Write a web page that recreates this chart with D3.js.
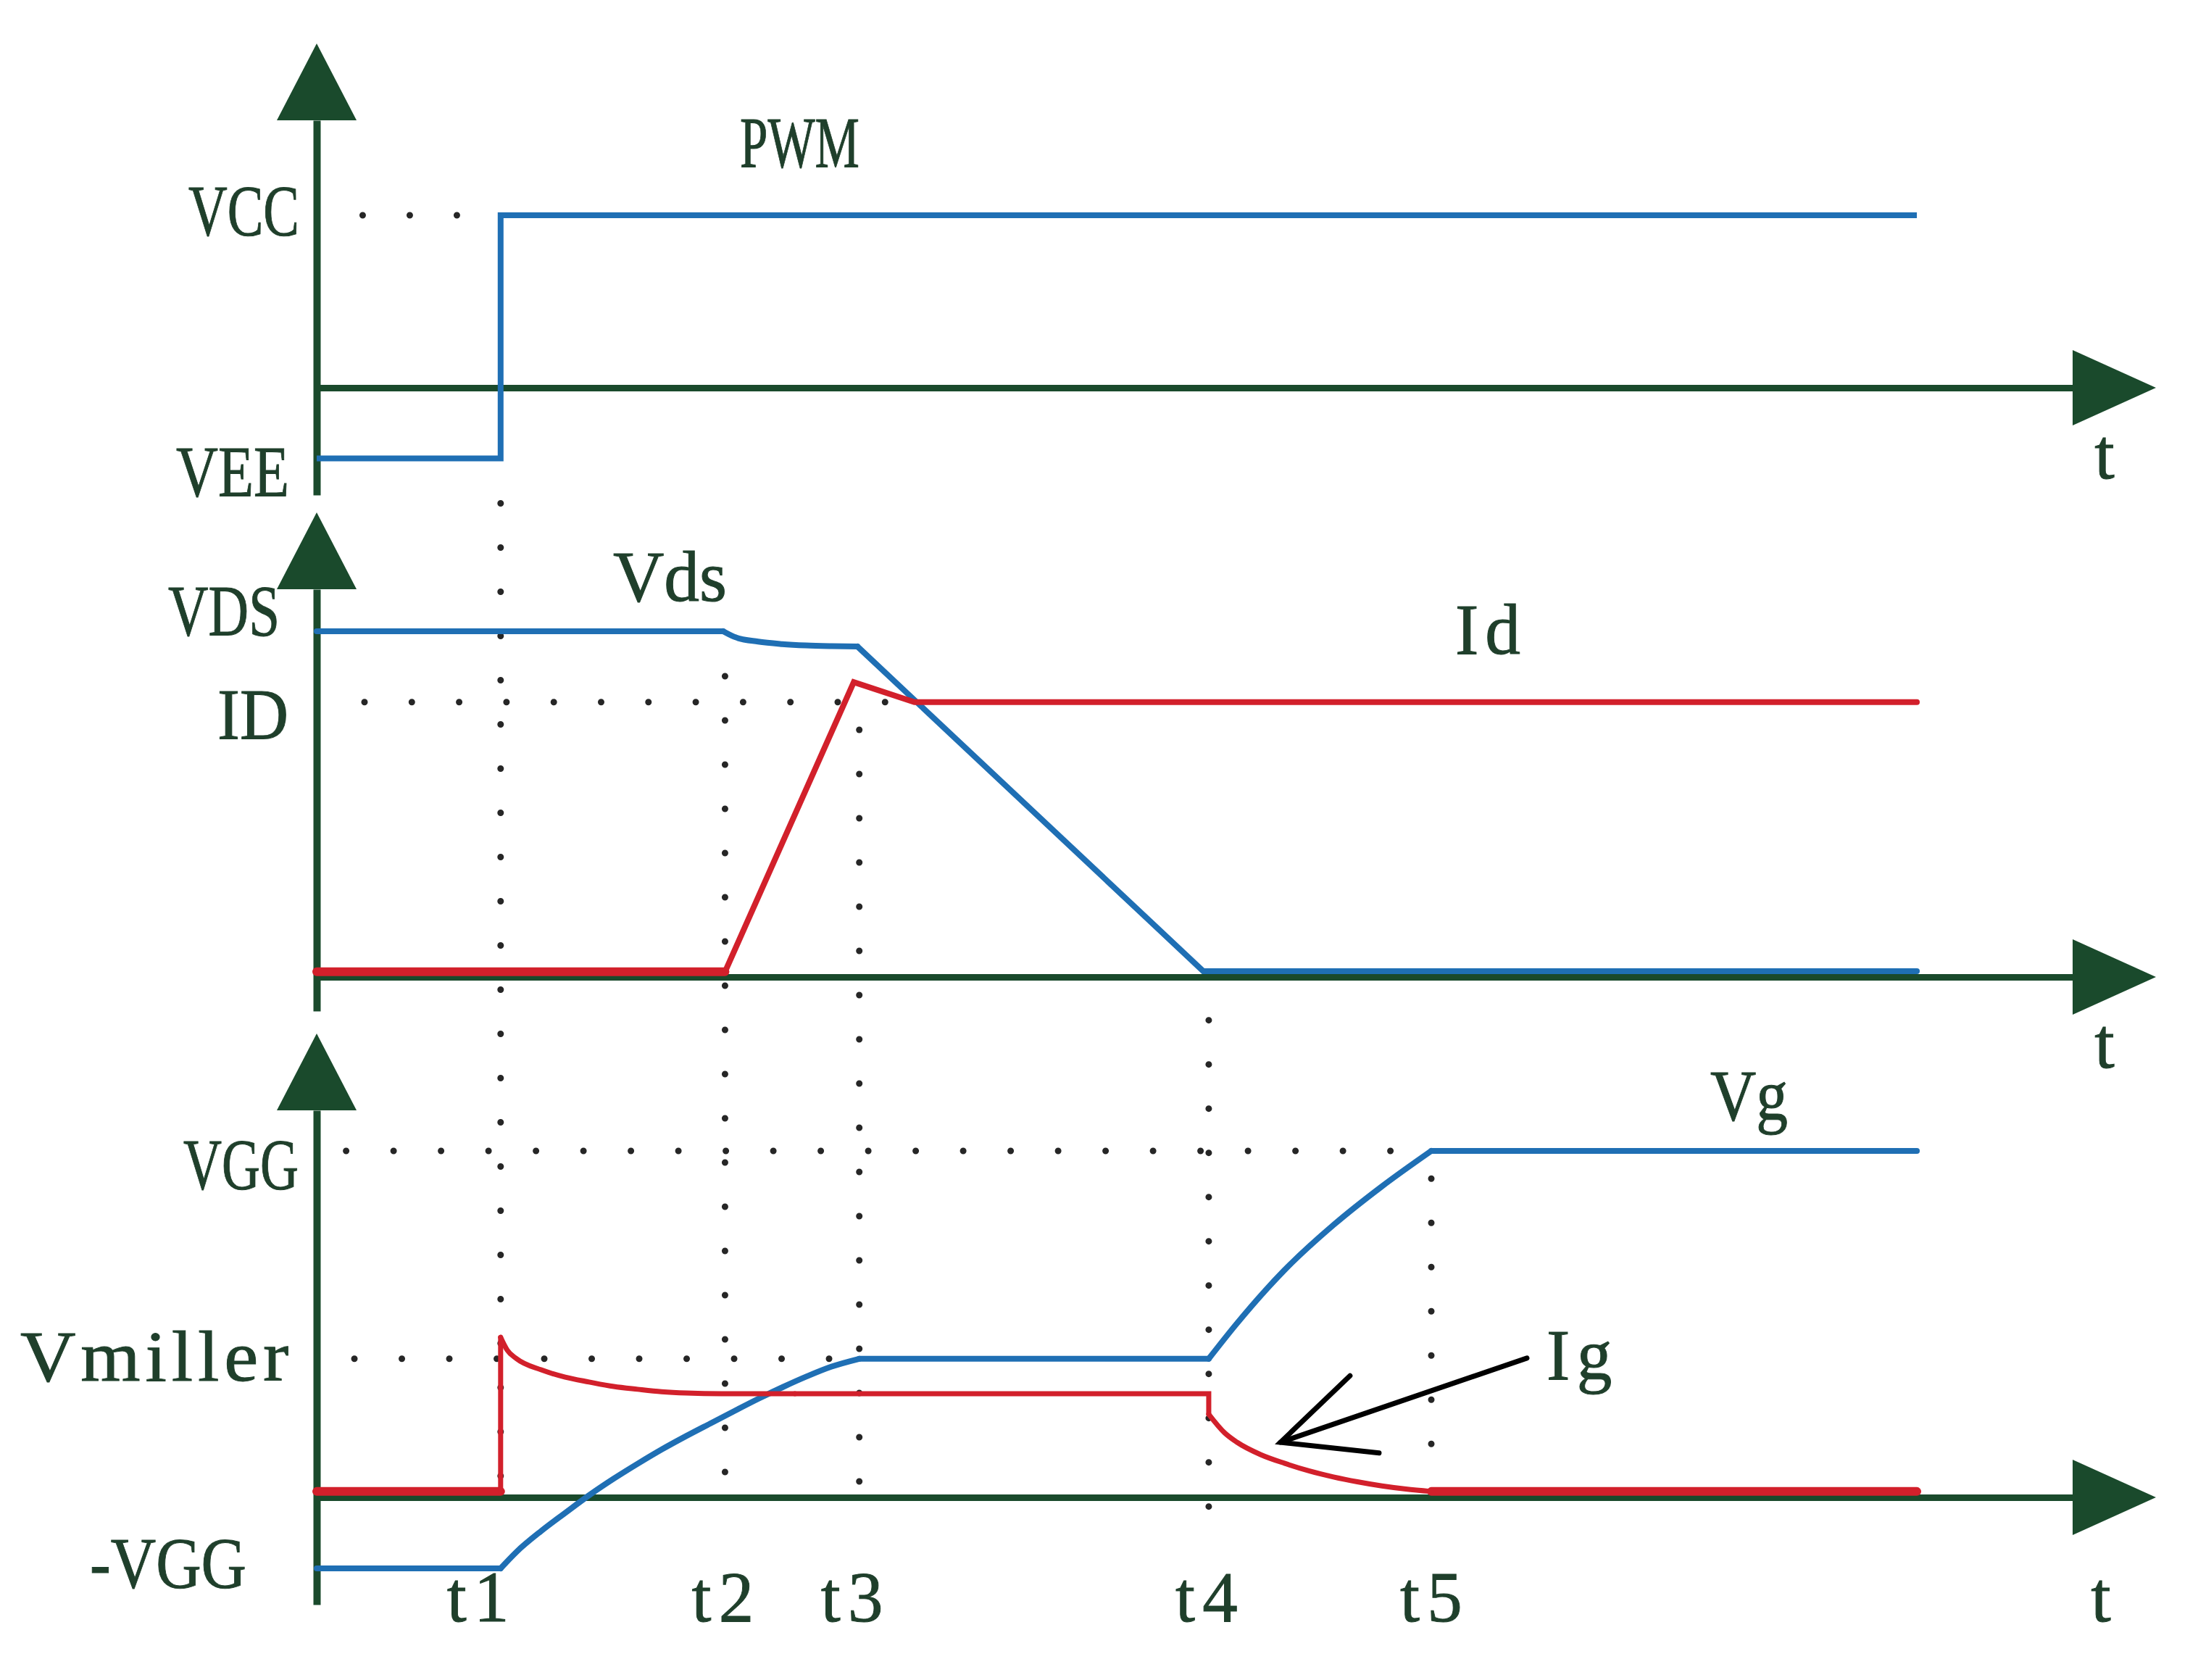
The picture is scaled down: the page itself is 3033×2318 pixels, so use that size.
<!DOCTYPE html>
<html><head><meta charset="utf-8">
<script src="https://cdn.jsdelivr.net/npm/d3@7"></script>
<style>html,body{margin:0;padding:0;background:#fff;} svg{display:block;}</style>
</head><body>
<svg id="chart" width="3033" height="2318"></svg>
<script>
// ---------------- DATA ----------------
const tickNames  = ["t1", "t2", "t3", "t4", "t5"];
const tickValues = [1.0, 2.22, 2.95, 4.85, 6.06];

// Panel 1 : PWM
const p1LevelNames = ["VCC", "VEE"];
const p1LevelValues = [1, -0.41];
const pwmTime  = [0, 1.0, 1.0, 8.70];
const pwmValue = [-0.41, -0.41, 1, 1];

// Panel 2 : Vds / Id
const p2LevelNames = ["VDS", "ID"];
const p2LevelValues = [1, 0.795];
const vdsTime  = [0, 2.21, 2.27, 2.40, 2.53, 2.66, 2.80, 2.94, 4.82, 8.70];
const vdsValue = [1, 1, 0.984, 0.970, 0.963, 0.959, 0.957, 0.956, 0.017, 0.017];
const idTime   = [0, 2.22, 2.92, 3.25, 8.70];
const idValue  = [0.015, 0.015, 0.853, 0.795, 0.795];

// Panel 3 : Vg / Ig
const p3LevelNames = ["VGG", "Vmiller", "-VGG"];
const p3LevelValues = [1, 0.40, -0.205];
const vgTime  = [0, 1.0, 1.087, 1.221, 1.351, 1.481, 1.615, 1.745, 1.875, 2.009, 2.139, 2.27, 2.403, 2.533, 2.664, 2.797, 2.95,
                 4.85, 5.0, 5.26, 5.53, 5.79, 6.06, 8.70];
const vgValue = [-0.205, -0.205, -0.157, -0.097, -0.045, 0.006, 0.054, 0.097, 0.138, 0.177, 0.213, 0.249, 0.285, 0.318, 0.349, 0.377, 0.40,
                 0.40, 0.50, 0.655, 0.787, 0.897, 1.0, 1.0];
const igTime  = [0, 1.0, 1.0, 1.036, 1.087, 1.221, 1.351, 1.481, 1.615, 1.745, 1.875, 2.009, 2.2, 2.6,
                 4.85, 4.85, 4.937, 5.004, 5.134, 5.264, 5.398, 5.528, 5.658, 5.792, 5.922, 6.06, 8.70];
const igValue = [0.017, 0.017, 0.462, 0.425, 0.40, 0.368, 0.347, 0.333, 0.320, 0.312, 0.305, 0.301, 0.299, 0.299,
                 0.299, 0.24, 0.186, 0.159, 0.123, 0.098, 0.076, 0.059, 0.045, 0.033, 0.024, 0.017, 0.017];

// Ig annotation arrow (time, value in panel 3)
const igArrowTime  = [6.58, 5.24];
const igArrowValue = [0.402, 0.159];
const igArrowHeadTime  = [5.618, 5.24, 5.776];
const igArrowHeadValue = [0.351, 0.159, 0.128];

// ---------------- STYLE / LAYOUT ----------------
const COLORS = {axis:"#1a4a2c", text:"#1f3f2b", blue:"#1f6fb4", red:"#d2202b", dot:"#262626", arrow:"#000"};
const FONT = "'Liberation Serif','Times New Roman',serif";
const FS = 99;

const svg = d3.select("#chart");
svg.append("rect").attr("width",3033).attr("height",2318).attr("fill","#fff");

const x  = d3.scaleLinear().domain([0, 10]).range([437, 2975]);
const y1 = d3.scaleLinear().domain([0, 1]).range([535, 297]);
const y2 = d3.scaleLinear().domain([0, 1]).range([1348, 871]);
const y3 = d3.scaleLinear().domain([0, 1]).range([2066, 1588]);

const panels = [
  {y:y1, top:60,   bottom:683},
  {y:y2, top:707,  bottom:1395},
  {y:y3, top:1426, bottom:2214}
];

const gAxes = svg.append("g");
const gGuides = svg.append("g");
const gLines = svg.append("g");
const gHeads = svg.append("g");
const gText = svg.append("g");

// ---------- axes ----------
const ARROW_LEN = 110, ARROW_HALF = 55;
panels.forEach(p => {
  const y0 = p.y(0);
  const xEnd = x.invert(x(10) - ARROW_LEN + 4);
  const xa = x.copy().domain([0, xEnd]).range([x(0), x(xEnd)]);
  const hg = gAxes.append("g").attr("transform", `translate(0,${y0})`)
    .call(d3.axisBottom(xa).tickValues([]).tickSizeOuter(0));
  hg.select(".domain").attr("stroke", COLORS.axis).attr("stroke-width", 9);
  const yTop = p.top + ARROW_LEN - 4;
  const ya = d3.scaleLinear().domain([p.y.invert(p.bottom), p.y.invert(yTop)]).range([p.bottom, yTop]);
  const vg = gAxes.append("g").attr("transform", `translate(${x(0)},0)`)
    .call(d3.axisLeft(ya).tickValues([]).tickSizeOuter(0));
  vg.select(".domain").attr("stroke", COLORS.axis).attr("stroke-width", 10);
  const ph = d3.path();
  ph.moveTo(x(10), y0); ph.lineTo(x(10) - ARROW_LEN - 5, y0 - 52); ph.lineTo(x(10) - ARROW_LEN - 5, y0 + 52); ph.closePath();
  gHeads.append("path").attr("d", ph.toString()).attr("fill", COLORS.axis);
  const pv = d3.path();
  pv.moveTo(x(0), p.top); pv.lineTo(x(0) - ARROW_HALF, p.top + 106); pv.lineTo(x(0) + ARROW_HALF, p.top + 106); pv.closePath();
  gHeads.append("path").attr("d", pv.toString()).attr("fill", COLORS.axis);
});

// ---------- dotted guides ----------
function dotted(x1, yy1, x2, yy2, gap) {
  gGuides.append("line").attr("x1", x1).attr("y1", yy1).attr("x2", x2).attr("y2", yy2)
    .attr("stroke", COLORS.dot).attr("stroke-width", 9).attr("stroke-linecap", "round")
    .attr("stroke-dasharray", `0 ${gap}`);
}
dotted(x(0.25), y1(p1LevelValues[0]), x(0.77), y1(p1LevelValues[0]), 65);
dotted(x(0.26), y2(p2LevelValues[1]), x(3.22), y2(p2LevelValues[1]), 65.3);
dotted(x(0.16), y3(p3LevelValues[0]), x(5.95), y3(p3LevelValues[0]), 65.5);
dotted(x(0.205), y3(p3LevelValues[1]), x(2.85), y3(p3LevelValues[1]), 65.5);
dotted(x(tickValues[0]), y1(-0.67), x(tickValues[0]), y3(-0.05), 61);
dotted(x(tickValues[1]), y2(0.87),  x(tickValues[1]), y3(-0.05), 61);
dotted(x(tickValues[2]), y2(0.715), x(tickValues[2]), y3(-0.07), 61);
dotted(x(tickValues[3]), y2(-0.125), x(tickValues[3]), y3(-0.05), 61);
dotted(x(tickValues[4]), y3(0.92), x(tickValues[4]), y3(0.04), 61);

// ---------- series ----------
function series(times, values, yS, color, pieces) {
  const pts = times.map((t, i) => [t, values[i]]);
  pieces.forEach(pc => {
    const line = d3.line().x(d => x(d[0])).y(d => yS(d[1])).curve(pc.curve || d3.curveLinear);
    gLines.append("path").attr("d", line(pts.slice(pc.from, pc.to + 1)))
      .attr("fill", "none").attr("stroke", color).attr("stroke-width", pc.w || 8)
      .attr("stroke-linejoin", "miter").attr("stroke-linecap", pc.cap || "round");
  });
}
const M = d3.curveMonotoneX;
series(pwmTime, pwmValue, y1, COLORS.blue, [{from:0, to:3, w:8, cap:"butt"}]);
series(vdsTime, vdsValue, y2, COLORS.blue, [{from:0,to:1},{from:1,to:7,curve:M},{from:7,to:9}]);
series(idTime, idValue, y2, COLORS.red, [{from:0,to:1,w:12},{from:1,to:4}]);
series(vgTime, vgValue, y3, COLORS.blue, [{from:0,to:1},{from:1,to:16,curve:M},{from:16,to:17},{from:17,to:22,curve:M},{from:22,to:23}]);
series(igTime, igValue, y3, COLORS.red, [{from:0,to:1,w:12},{from:1,to:2,w:7},{from:2,to:13,curve:M,w:7},{from:13,to:15,w:7},{from:15,to:25,curve:M,w:7},{from:25,to:26,w:12}]);

// Ig annotation arrow
gHeads.append("path")
  .attr("d", d3.line()(igArrowTime.map((t,i) => [x(t), y3(igArrowValue[i])])))
  .attr("fill","none").attr("stroke", COLORS.arrow).attr("stroke-width", 7).attr("stroke-linecap","round");
gHeads.append("path")
  .attr("d", d3.line()(igArrowHeadTime.map((t,i) => [x(t), y3(igArrowHeadValue[i])])))
  .attr("fill","none").attr("stroke", COLORS.arrow).attr("stroke-width", 7).attr("stroke-linecap","round").attr("stroke-linejoin","miter");

// ---------- text ----------
function label(txt, left, right, baseline) {
  const t = gText.append("text").attr("x", left).attr("y", baseline).text(txt)
    .attr("font-family", FONT).attr("font-size", FS).attr("fill", COLORS.text)
    .attr("stroke", COLORS.text).attr("stroke-width", 1.0);
  if (txt.length > 1) {
    const target = right - left;
    const nat = t.node().getComputedTextLength();
    if (nat < target) {
      // half of the extra room as letter spacing, the rest as glyph widening
      const ls = (target - nat) * 0.55 / (txt.length - 1);
      t.attr("letter-spacing", ls);
    }
    t.attr("textLength", target).attr("lengthAdjust", "spacingAndGlyphs");
  } else {
    t.attr("x", (left + right) / 2).attr("text-anchor", "middle");
  }
}
const levelLayout = {
  "VCC":[260,413,27], "VEE":[243,399,51],
  "VDS":[232,386,5], "ID":[300,398,50],
  "VGG":[253,412,52], "Vmiller":[28,405,30], "-VGG":[124,340,26]
};
[[p1LevelNames,p1LevelValues,y1],[p2LevelNames,p2LevelValues,y2],[p3LevelNames,p3LevelValues,y3]].forEach(([names, vals, yS]) => {
  names.forEach((n, i) => {
    const L = levelLayout[n];
    label(n, L[0], L[1], yS(vals[i]) + L[2]);
  });
});
const tickOffset = [-26, 2, -5, 2, 5];
tickNames.forEach((n, i) => {
  const cx = x(tickValues[i]) + tickOffset[i];
  label(n, cx - 48, cx + 48, y3(0) + 171);
});
label("PWM", 1021, 1186, 230);
label("Vds", 846, 1003, 829);
label("Id", 2008, 2107, 902);
label("Vg", 2360, 2467, 1545);
label("Ig", 2134, 2234, 1903);
label("t", 2886, 2922, y1(0) + 125);
label("t", 2886, 2922, y2(0) + 125);
label("t", 2880, 2918, y3(0) + 171);
</script></body></html>
